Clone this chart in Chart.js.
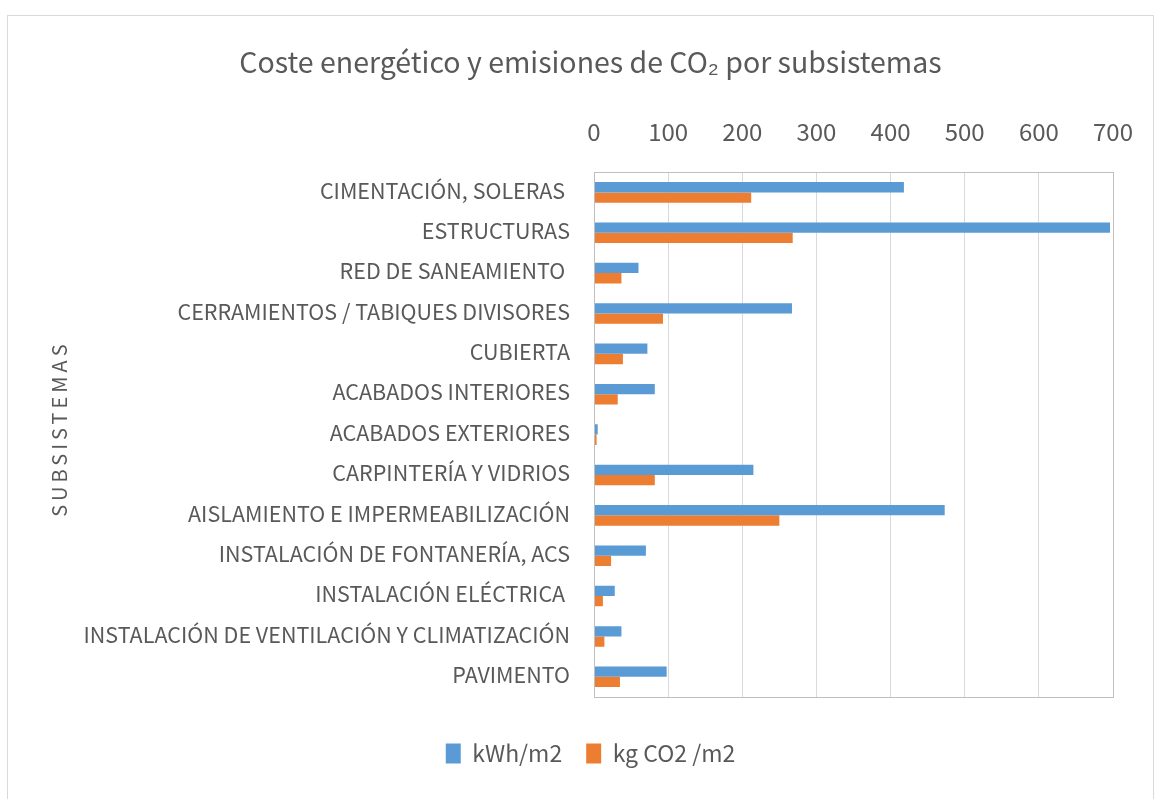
<!DOCTYPE html>
<html>
<head>
<meta charset="utf-8">
<script src="https://cdn.jsdelivr.net/npm/chart.js@4/dist/chart.umd.min.js"></script>
<style>
  html, body { margin: 0; padding: 0; background: #ffffff; }
  canvas { display: block; }
</style>
</head>
<body>
<canvas id="c" width="1163" height="799"></canvas>
<script>
const categories = [
  "CIMENTACIÓN, SOLERAS ",
  "ESTRUCTURAS",
  "RED DE SANEAMIENTO ",
  "CERRAMIENTOS / TABIQUES DIVISORES",
  "CUBIERTA",
  "ACABADOS INTERIORES",
  "ACABADOS EXTERIORES",
  "CARPINTERÍA Y VIDRIOS",
  "AISLAMIENTO E IMPERMEABILIZACIÓN",
  "INSTALACIÓN DE FONTANERÍA, ACS",
  "INSTALACIÓN ELÉCTRICA ",
  "INSTALACIÓN DE VENTILACIÓN Y CLIMATIZACIÓN",
  "PAVIMENTO"
];
const kwhValues = [418, 696, 60, 267, 72, 82, 5, 215, 473, 70, 28, 37, 98];
const co2Values = [212, 268, 37, 93, 39, 32, 3.5, 82, 250, 23, 12, 14, 35];
const seriesNames = ["kWh/m2", "kg CO2 /m2"];
const chartTitle = "Coste energético y emisiones de CO₂ por subsistemas";
const axisTitle = "SUBSISTEMAS";
const xMin = 0, xMax = 700, xStep = 100;

const FONT = "'Noto Sans CJK SC', 'Liberation Sans', Arial, sans-serif";
const TEXT = "#595959";

const framePlugin = {
  id: 'frame',
  afterLayout(chart) {
    const ys = chart.scales.y;
    if (ys && !ys._spacedTitle) {
      const orig = Object.getPrototypeOf(ys).drawTitle;
      ys.drawTitle = function () {
        const ctx = this.ctx;
        ctx.save();
        ctx.letterSpacing = '4px';
        ctx.translate(0, -6);
        orig.call(this);
        ctx.restore();
      };
      ys._spacedTitle = true;
    }
  },
  beforeDraw(chart) {
    const ctx = chart.ctx;
    ctx.save();
    ctx.fillStyle = '#ffffff';
    ctx.fillRect(0, 0, chart.width, chart.height);
    ctx.strokeStyle = '#d9d9d9';
    ctx.lineWidth = 1;
    ctx.strokeRect(7.5, 15.5, 1146, 800);
    ctx.restore();
  },
  afterDraw(chart) {
    const a = chart.chartArea;
    const ctx = chart.ctx;
    ctx.save();
    ctx.strokeStyle = '#bfbfbf';
    ctx.lineWidth = 1;
    ctx.strokeRect(Math.round(a.left) + 0.5, Math.round(a.top) + 0.5,
                   Math.round(a.right - a.left), Math.round(a.bottom - a.top));
    ctx.restore();
  }
};

new Chart(document.getElementById('c'), {
  type: 'bar',
  data: {
    labels: categories,
    datasets: [
      { label: seriesNames[0], data: kwhValues, backgroundColor: '#5B9BD5', borderWidth: 0 },
      { label: seriesNames[1], data: co2Values, backgroundColor: '#ED7D31', borderWidth: 0 }
    ]
  },
  options: {
    indexAxis: 'y',
    responsive: false,
    animation: false,
    devicePixelRatio: 1,
    categoryPercentage: 0.51,
    barPercentage: 1.0,
    layout: { padding: { left: 68, right: 50, top: 8, bottom: 24 } },
    plugins: {
      title: {
        display: true,
        text: chartTitle,
        color: TEXT,
        font: { family: FONT, size: 28.5, weight: 'normal' },
        padding: { top: 37, bottom: 6 }
      },
      legend: {
        display: true,
        position: 'bottom',
        title: { display: true, text: '', font: { size: 10 }, padding: { top: 0, bottom: 9 } },
        labels: {
          color: TEXT,
          font: { family: FONT, size: 23 },
          boxWidth: 15,
          boxHeight: 20,
          padding: 24
        }
      },
      tooltip: { enabled: false }
    },
    scales: {
      x: {
        position: 'top',
        min: xMin,
        max: xMax,
        ticks: {
          stepSize: xStep,
          color: TEXT,
          font: { family: FONT, size: 24 },
          padding: 26
        },
        grid: { color: '#d9d9d9', drawTicks: false, lineWidth: 1 },
        border: { display: false },
        afterFit(scale) { scale.height = 87; }
      },
      y: {
        ticks: {
          color: TEXT,
          font: { family: FONT, size: 21.5 },
          padding: 24,
          labelOffset: -2,
          autoSkip: false
        },
        grid: { display: false, drawTicks: false },
        border: { display: true, color: '#d9d9d9' },
        title: {
          display: true,
          text: axisTitle,
          color: TEXT,
          font: { family: FONT, size: 20 },
          padding: { top: -21, bottom: 0 }
        },
        afterFit(scale) { scale.width = 526; }
      }
    }
  },
  plugins: [framePlugin]
});
</script>
</body>
</html>
